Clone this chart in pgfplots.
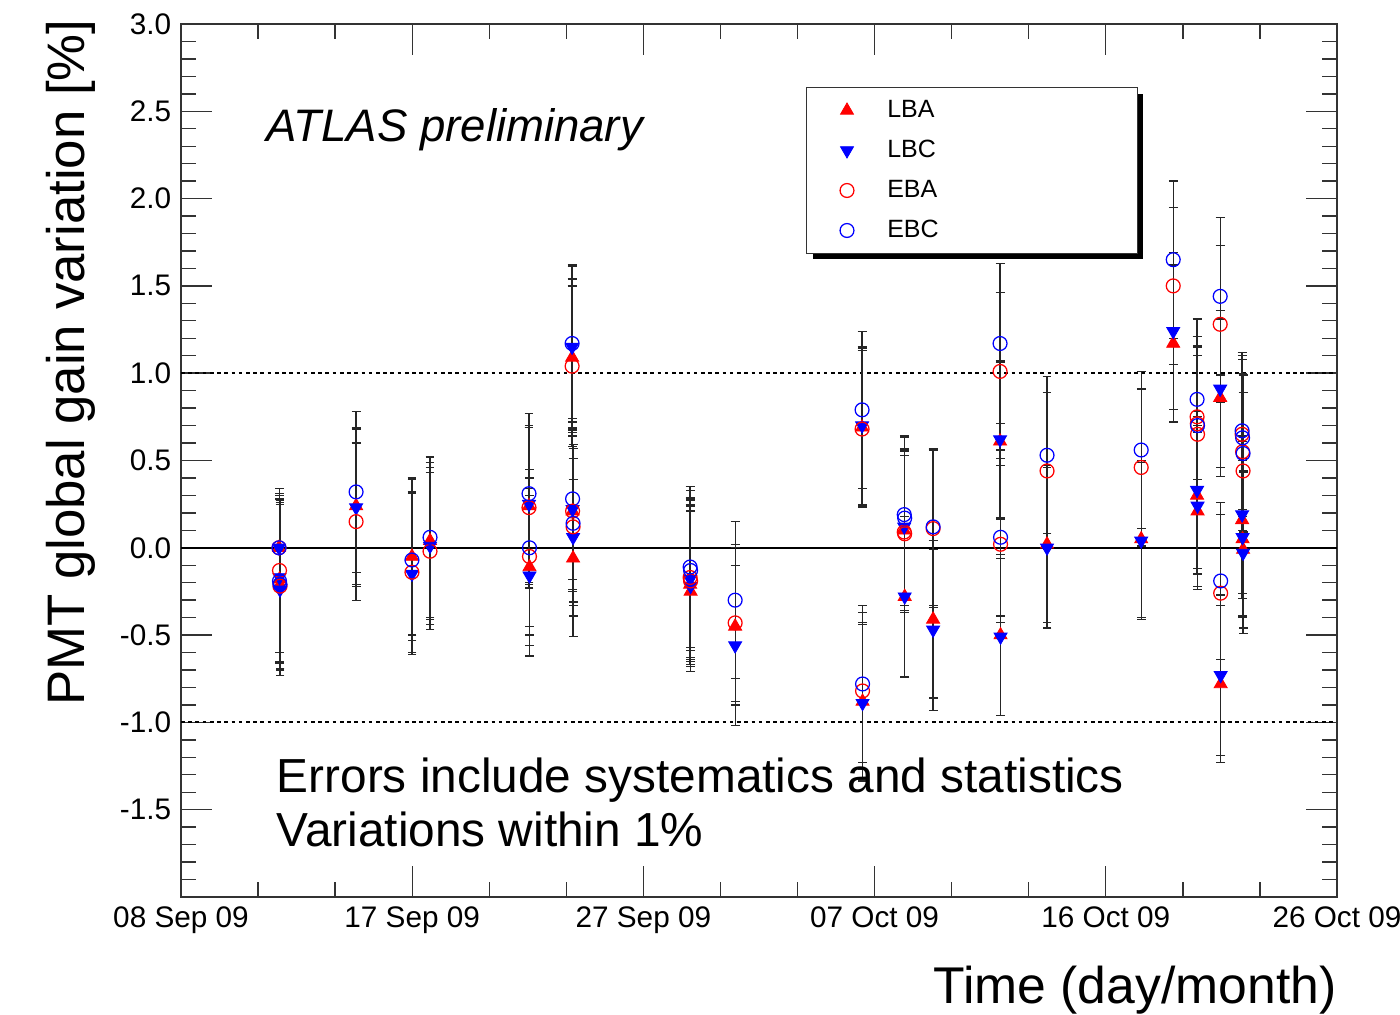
\documentclass[border=0pt]{standalone}
\usepackage{pgfplots}
\pgfplotsset{compat=1.18}
\usepackage{pgfplotstable}
\usepackage{fontspec}
\setmainfont{Liberation Sans}
\usetikzlibrary{shadows}

% x = days since 08 Sep 09, y = gain variation [%], e = error
\pgfplotstableread{
x y e
4.07 0.00 0
4.09 -0.18 0.48
4.11 -0.21 0.48
7.27 0.24 0.45
9.59 -0.05 0.45
10.34 0.04 0.45
14.45 0.24 0.45
14.47 -0.11 0.45
16.24 1.09 0.45
16.26 0.21 0.46
16.28 -0.06 0.45
21.14 -0.21 0.46
21.16 -0.25 0.46
23.01 -0.45 0.45
28.28 0.69 0.45
28.30 -0.88 0.45
30.03 0.10 0.46
30.05 -0.28 0.46
31.23 -0.41 0.45
34.01 0.61 0.45
34.03 -0.50 0.46
35.96 0.02 0.45
39.87 0.05 0.45
41.20 1.17 0.45
42.19 0.30 0.45
42.21 0.21 0.45
43.15 0.86 0.45
43.17 -0.78 0.45
44.06 0.16 0.45
44.08 0.05 0.45
44.10 -0.01 0.45
}\lba

\pgfplotstableread{
x y e
4.07 0.00 0
4.09 -0.17 0.48
4.11 -0.24 0.49
7.27 0.23 0.45
9.59 -0.15 0.46
10.34 0.01 0.45
14.45 0.25 0.45
14.47 -0.16 0.46
16.24 1.15 0.46
16.26 0.22 0.46
16.28 0.06 0.45
21.14 -0.18 0.46
21.16 -0.22 0.46
23.01 -0.56 0.46
28.28 0.70 0.45
28.30 -0.89 0.45
30.03 0.12 0.45
30.05 -0.28 0.46
31.23 -0.47 0.46
34.01 0.62 0.45
34.03 -0.51 0.45
35.96 0.00 0.46
39.87 0.04 0.45
41.20 1.24 0.45
42.19 0.33 0.45
42.21 0.24 0.46
43.15 0.91 0.45
43.17 -0.73 0.46
44.06 0.19 0.45
44.08 0.06 0.45
44.10 -0.03 0.46
}\lbc

\pgfplotstableread{
x y e
4.07 0.00 0
4.09 -0.13 0.47
4.11 -0.22 0.48
7.27 0.15 0.45
9.59 -0.14 0.46
10.34 -0.02 0.45
14.45 0.23 0.46
14.47 -0.05 0.45
16.24 1.04 0.46
16.26 0.21 0.45
16.28 0.12 0.45
21.14 -0.17 0.46
21.16 -0.19 0.46
23.01 -0.43 0.45
28.28 0.68 0.45
28.30 -0.82 0.45
30.03 0.09 0.46
30.05 0.08 0.45
31.23 0.11 0.45
34.01 1.01 0.45
34.03 0.02 0.45
35.96 0.44 0.45
39.87 0.46 0.45
41.20 1.50 0.45
42.19 0.75 0.46
42.20 0.71 0.45
42.21 0.65 0.45
43.15 1.28 0.45
43.17 -0.26 0.45
44.06 0.65 0.45
44.08 0.55 0.45
44.10 0.44 0.45
}\eba

\pgfplotstableread{
x y e
4.07 0.00 0
4.09 -0.19 0.47
4.11 -0.21 0.48
7.27 0.32 0.46
9.59 -0.07 0.46
10.34 0.06 0.46
14.45 0.31 0.46
14.47 0.00 0.45
16.24 1.17 0.45
16.26 0.28 0.46
16.28 0.14 0.45
21.14 -0.11 0.46
21.16 -0.13 0.46
23.01 -0.30 0.45
28.28 0.79 0.45
28.30 -0.78 0.45
30.03 0.19 0.45
30.05 0.17 0.46
31.23 0.12 0.45
34.01 1.17 0.46
34.03 0.06 0.45
35.96 0.53 0.45
39.87 0.56 0.45
41.20 1.65 0.45
42.19 0.85 0.46
42.21 0.70 0.45
43.15 1.44 0.45
43.17 -0.19 0.45
44.06 0.67 0.45
44.08 0.63 0.45
44.10 0.54 0.45
}\ebc

\begin{document}
\begin{tikzpicture}
\useasboundingbox (-65.16pt,-42.48pt) rectangle (438.84pt,322.92pt);
\begin{axis}[
  at={(0,0)}, anchor=south west,
  scale only axis, width=416.16pt, height=314.28pt,
  xmin=0, xmax=48, ymin=-2, ymax=3,
  xtick={0,9.6,19.2,28.8,38.4,48},
  xticklabels={08 Sep 09,17 Sep 09,27 Sep 09,07 Oct 09,16 Oct 09,26 Oct 09},
  minor xtick={3.2,6.4,12.8,16,22.4,25.6,32,35.2,41.6,44.8},
  ytick={-2,-1.5,-1,-0.5,0,0.5,1,1.5,2,2.5,3},
  yticklabels={,-1.5,-1.0,-0.5,0.0,0.5,1.0,1.5,2.0,2.5,3.0},
  minor y tick num=4,
  tick align=inside, tick pos=both,
  major tick length=11.2pt, minor tick length=5.4pt,
  every tick/.style={black!80, line width=0.5pt},
  axis line style={black!80, line width=0.6pt},
  tick label style={font=\fontsize{10.7}{12}\selectfont},
  legend cell align=left,
  legend style={at={(rel axis cs:0.5407,0.9278)}, anchor=north west,
    draw=black!80, fill=white, line width=0.5pt,
    drop shadow={shadow xshift=2.2pt, shadow yshift=-2.2pt, opacity=1, fill=black},
    font=\fontsize{9}{11}\selectfont,
    inner xsep=12pt, inner ysep=1pt, row sep=0pt,
    nodes={minimum height=14.4pt, inner ysep=0pt},
    /tikz/every odd column/.append style={column sep=10pt}},
  error bars/error mark=|,
]
\addplot[black, line width=0.8pt, forget plot] coordinates {(0,0) (48,0)};
\addplot[black, line width=0.7pt, dash pattern=on 1.3pt off 1.3pt, forget plot] coordinates {(0,1) (48,1)};
\addplot[black, line width=0.7pt, dash pattern=on 1.3pt off 1.3pt, forget plot] coordinates {(0,-1) (48,-1)};

\addplot[only marks, red, mark=triangle*, mark size=2.7pt, mark options={fill=red, draw=red, line width=0.3pt},
  error bars/.cd, y dir=both, y explicit, error mark=|,
  error bar style={black!85, line width=0.45pt},
  error mark options={black!85, mark size=1.6pt, line width=0.45pt}]
  table[x=x, y=y, y error=e]{\lba};
\addlegendentry{\makebox[76pt][l]{LBA}}

\addplot[only marks, blue, mark=triangle*, mark size=2.7pt, mark options={fill=blue, draw=blue, rotate=180, line width=0.3pt},
  error bars/.cd, y dir=both, y explicit, error mark=|,
  error bar style={black!85, line width=0.45pt},
  error mark options={black!85, mark size=1.6pt, line width=0.45pt}]
  table[x=x, y=y, y error=e]{\lbc};
\addlegendentry{\makebox[76pt][l]{LBC}}

\addplot[only marks, red, mark=o, mark size=2.5pt, mark options={draw=red, line width=0.45pt},
  error bars/.cd, y dir=both, y explicit, error mark=|,
  error bar style={black!85, line width=0.45pt},
  error mark options={black!85, mark size=1.6pt, line width=0.45pt}]
  table[x=x, y=y, y error=e]{\eba};
\addlegendentry{\makebox[76pt][l]{EBA}}

\addplot[only marks, blue, mark=o, mark size=2.5pt, mark options={draw=blue, line width=0.45pt},
  error bars/.cd, y dir=both, y explicit, error mark=|,
  error bar style={black!85, line width=0.45pt},
  error mark options={black!85, mark size=1.6pt, line width=0.45pt}]
  table[x=x, y=y, y error=e]{\ebc};
\addlegendentry{\makebox[76pt][l]{EBC}}
\end{axis}

\node[anchor=base west, font=\fontsize{16.4}{19}\selectfont\itshape] at (27.3pt,271.8pt) {ATLAS preliminary};
\node[anchor=base west, font=\fontsize{17.2}{20}\selectfont] at (30.96pt,37.44pt) {Errors include systematics and statistics};
\node[anchor=base west, font=\fontsize{17.2}{20}\selectfont] at (30.96pt,18pt) {Variations within 1\%};
\node[anchor=base east, inner sep=0pt, font=\fontsize{18.6}{22}\selectfont] at (416.16pt,-38.2pt) {Time (day/month)};
\node[anchor=base east, inner sep=0pt, rotate=90, font=\fontsize{19}{22}\selectfont] at (-34.6pt,316.1pt) {PMT global gain variation [\%]};
\end{tikzpicture}
\end{document}
